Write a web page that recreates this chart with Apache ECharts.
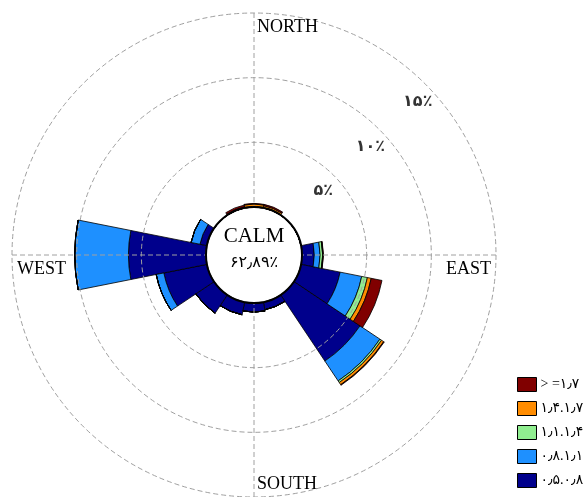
<!DOCTYPE html>
<html><head><meta charset="utf-8">
<script src="https://cdn.jsdelivr.net/npm/echarts@6/dist/echarts.min.js"></script>
<style>html,body{margin:0;padding:0;background:#fff}#c{width:588px;height:497px}</style>
</head><body><div id="c"></div>
<script>
// ---- data ----
const directions = ['N','NNE','NE','ENE','E','ESE','SE','SSE','S','SSW','SW','WSW','W','WNW','NW','NNW'];
const speedClasses = ['۰٫۵.۰٫۸','۰٫۸.۱٫۱','۱٫۱.۱٫۴','۱٫۴.۱٫۷','> =۱٫۷'];
const s05_08 = [0,0,0,0,0.95,3.08,6.15,0.6,0.7,1.0,1.7,3.4,6.0,0.55,0,0];
const s08_11 = [0,0,0,0,0.45,1.7,1.85,0,0,0,0,0.6,4.15,0.7,0,0];
const s11_14 = [0.05,0.04,0,0,0.2,0.45,0.15,0,0,0,0,0,0,0,0,0];
const s14_17 = [0.18,0.14,0,0,0.03,0.3,0.2,0,0,0,0,0,0,0,0,0.08];
const s17up  = [0.05,0.1,0,0,0.03,0.85,0.05,0,0,0,0,0,0,0,0,0.14];
const radiusTicks = [5,10,15];
const radiusTickLabels = ['۵٪','۱۰٪','۱۵٪'];
const calmLabel = 'CALM';
const calmValue = '۶۲٫۸۹٪';
const compassLabels = ['NORTH','EAST','SOUTH','WEST'];

// ---- styling ----
const colors = ['#00008c','#1e90ff','#90ee90','#ff8c00','#800000'];
const serif = "'Liberation Serif','Times New Roman','DejaVu Sans',serif";
const C = [254,255];
const gridLine = {color:'#a0a0a0', width:1, type:[5,3]};
const seriesData = [s05_08, s08_11, s11_14, s14_17, s17up];

const chart = echarts.init(document.getElementById('c'), null, {renderer:'canvas'});
const off = {show:false};

const barSeries = seriesData.map((d,i)=>({
  name: speedClasses[i], type:'bar', coordinateSystem:'polar', polarIndex:0,
  stack:'wind', data:d, barCategoryGap:'0%', z:2,
  itemStyle:{color:colors[i], borderColor:'#000', borderWidth:0.8},
  emphasis:{disabled:true}
}));

chart.setOption({
  animation:false,
  backgroundColor:'#fff',
  polar:[
    {center:C, radius:[48,242]},
    {center:C, radius:[48,242]},
    {center:C, radius:48}
  ],
  angleAxis:[
    {polarIndex:0, type:'category', data:directions, startAngle:90+180/directions.length, clockwise:true,
     axisLine:off, axisTick:off, axisLabel:off, splitLine:off, z:1},
    {polarIndex:1, type:'value', min:0, max:360, interval:90, startAngle:90, clockwise:true,
     axisLine:off, axisTick:off, axisLabel:off, splitLine:{show:true, lineStyle:gridLine}, z:5},
    {polarIndex:2, type:'value', min:0, max:360, startAngle:90,
     axisLine:{show:true, lineStyle:{color:'#000', width:2}}, axisTick:off, axisLabel:off, splitLine:off, z:6}
  ],
  radiusAxis:[
    {polarIndex:0, type:'value', min:0, max:15, interval:5, axisLine:off, axisTick:off, axisLabel:off, splitLine:off, z:1},
    {polarIndex:1, type:'value', min:0, max:15, interval:5, axisLine:off, axisTick:off, axisLabel:off,
     splitLine:{show:true, lineStyle:gridLine}, z:5},
    {polarIndex:2, type:'value', min:0, max:1, show:false}
  ],
  legend:{
    orient:'vertical', left:517, top:377, padding:0, itemWidth:19, itemHeight:14, itemGap:9,
    icon:'rect', data:speedClasses.slice().reverse(),
    itemStyle:{borderColor:'#000', borderWidth:1},
    textStyle:{fontFamily:serif, fontSize:14, color:'#000', padding:[0,0,0,-1]},
    selectedMode:false
  },
  series: barSeries.concat([{
    type:'scatter', coordinateSystem:'polar', polarIndex:1, symbolSize:0, silent:true, z:7,
    data: radiusTicks.map((t,i)=>({value:[t-1.4, 47], label:{formatter:radiusTickLabels[i]}})),
    label:{show:true, position:'inside', fontFamily:serif, fontSize:16, fontWeight:'bold', color:'#000'}
  }]),
  graphic:[
    {type:'text', left:257, top:18, z:10, style:{text:compassLabels[0], font:'18px '+serif, fill:'#000'}},
    {type:'text', right:97, top:260, z:10, style:{text:compassLabels[1], font:'18px '+serif, fill:'#000'}},
    {type:'text', left:257, top:475, z:10, style:{text:compassLabels[2], font:'18px '+serif, fill:'#000'}},
    {type:'text', left:17, top:260, z:10, style:{text:compassLabels[3], font:'18px '+serif, fill:'#000'}},
    {type:'text', x:C[0], y:236, z:10, style:{text:calmLabel, font:'21px '+serif, fill:'#000', align:'center', verticalAlign:'middle'}},
    {type:'text', x:C[0], y:263, z:10, style:{text:calmValue, font:'16px '+serif, fill:'#000', align:'center', verticalAlign:'middle'}}
  ]
});
</script></body></html>
